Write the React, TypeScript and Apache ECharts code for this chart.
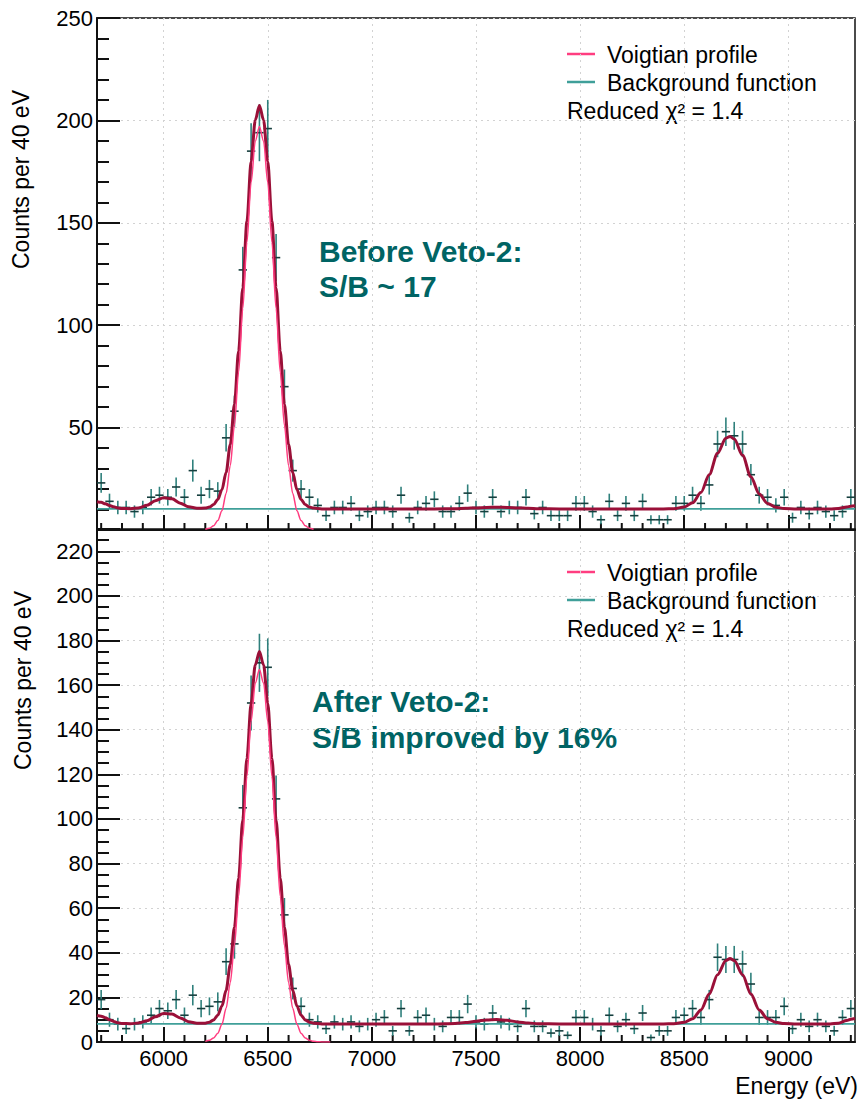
import React, { useEffect, useRef } from "react";
import * as echarts from "echarts";

// ---------------- data ----------------
const binCenters: number[] = [
  5700, 5740, 5780, 5820, 5860, 5900, 5940, 5980, 6020, 6060, 6100, 6140, 6180, 6220, 6260, 6300,
  6340, 6380, 6420, 6460, 6500, 6540, 6580, 6620, 6660, 6700, 6740, 6780, 6820, 6860, 6900, 6940,
  6980, 7020, 7060, 7100, 7140, 7180, 7220, 7260, 7300, 7340, 7380, 7420, 7460, 7500, 7540, 7580,
  7620, 7660, 7700, 7740, 7780, 7820, 7860, 7900, 7940, 7980, 8020, 8060, 8100, 8140, 8180, 8220,
  8260, 8300, 8340, 8380, 8420, 8460, 8500, 8540, 8580, 8620, 8660, 8700, 8740, 8780, 8820, 8860,
  8900, 8940, 8980, 9020, 9060, 9100, 9140, 9180, 9220, 9260, 9300,
];
const binHalfWidth = 20;

const topCounts: number[] = [
  23, 14, 11, 11, 9, 11, 16, 17, 16, 21,
  16, 29, 17, 20, 19, 45, 58, 127, 185, 194,
  196, 133, 70, 29, 20, 16, 12, 7, 11, 11,
  13, 7, 9, 11, 11, 9, 17, 6, 11, 13,
  15, 9, 9, 13, 18, 11, 9, 16, 9, 11,
  11, 16, 8, 11, 7, 7, 7, 13, 13, 9,
  5, 14, 7, 13, 7, 14, 5, 5, 5, 13,
  13, 17, 13, 22, 42, 48, 46, 42, 27, 17,
  16, 12, 16, 6, 11, 8, 11, 9, 7, 9,
  16,
];
const bottomCounts: number[] = [
  19, 10, 8, 6, 8, 9, 12, 15, 14, 19,
  12, 21, 15, 16, 18, 36, 44, 105, 152, 170,
  168, 109, 57, 24, 16, 10, 9, 6, 9, 8,
  9, 7, 8, 10, 11, 5, 15, 5, 11, 12,
  8, 7, 11, 11, 17, 9, 8, 13, 9, 8,
  7, 15, 7, 7, 4, 5, 3, 11, 11, 8,
  5, 12, 7, 10, 6, 13, 2, 5, 5, 11,
  12, 15, 11, 19, 38, 37, 37, 35, 26, 11,
  11, 11, 16, 6, 10, 7, 10, 7, 5, 11,
  15,
];

// total fit curve, sampled where read
const fitEnergies: number[] = [
  5680, 5700, 5720, 5740, 5760, 5780, 5800, 5840, 5880, 5920,
  5960, 6000, 6040, 6080, 6120, 6160, 6200, 6220, 6240, 6260,
  6280, 6300, 6320, 6340, 6360, 6380, 6400, 6420, 6440, 6460,
  6480, 6500, 6520, 6540, 6560, 6580, 6600, 6620, 6640, 6660,
  6680, 6700, 6720, 6760, 6800, 7000, 7200, 7300, 7400, 7450,
  7500, 7550, 7600, 7650, 7700, 7750, 7800, 7900, 8000, 8200,
  8300, 8400, 8450, 8500, 8540, 8580, 8620, 8660, 8700, 8720,
  8740, 8780, 8820, 8860, 8900, 8940, 8980, 9040, 9100, 9200,
  9240, 9280, 9300, 9320,
];
const topFit: number[] = [
  13.8, 13.5, 12.8, 12.0, 11.3, 10.8, 10.5, 10.4, 10.8, 12.1,
  14.3, 15.8, 15.2, 13.1, 11.3, 10.6, 10.7, 11.2, 12.4, 14.9,
  19.7, 28.1, 41.7, 61.4, 87.4, 118.3, 150.8, 179.9, 200.1, 207.3,
  200.1, 179.9, 150.8, 118.3, 87.4, 61.4, 41.7, 28.1, 19.7, 14.9,
  12.4, 11.2, 10.7, 10.3, 10.3, 10.3, 10.3, 10.3, 10.4, 10.6,
  10.8, 11.0, 11.1, 11.0, 10.8, 10.6, 10.4, 10.3, 10.3, 10.3,
  10.3, 10.3, 10.4, 11.2, 13.3, 18.3, 27.0, 37.5, 44.8, 45.7,
  44.4, 36.5, 26.0, 17.6, 13.0, 11.1, 10.5, 10.3, 10.3, 10.3,
  10.5, 11.2, 11.6, 11.8,
];
const bottomFit: number[] = [
  11.9, 11.6, 10.9, 10.0, 9.2, 8.6, 8.3, 8.2, 8.5, 9.5,
  11.3, 12.8, 12.5, 10.8, 9.1, 8.4, 8.4, 8.9, 9.9, 12.0,
  16.1, 23.2, 34.7, 51.4, 73.4, 99.7, 127.2, 151.8, 169.0, 175.1,
  169.0, 151.8, 127.2, 99.7, 73.4, 51.4, 34.7, 23.2, 16.1, 12.0,
  9.9, 8.9, 8.4, 8.1, 8.1, 8.1, 8.1, 8.1, 8.3, 8.7,
  9.3, 9.9, 10.1, 9.7, 9.0, 8.5, 8.2, 8.1, 8.1, 8.1,
  8.1, 8.1, 8.2, 8.8, 10.4, 14.4, 21.5, 30.2, 36.5, 37.4,
  36.5, 30.2, 21.5, 14.4, 10.4, 8.8, 8.3, 8.1, 8.1, 8.1,
  8.4, 9.6, 10.2, 10.5,
];

// Voigtian profile (visible part)
const voigtEnergiesTop: number[] = [
  6200, 6220, 6240, 6260, 6280, 6300, 6320, 6340, 6360, 6380, 6400, 6420, 6440, 6460,
  6480, 6500, 6520, 6540, 6560, 6580, 6600, 6620, 6640, 6660, 6680, 6700, 6720,
];
const topVoigt: number[] = [
  0.35, 0.88, 2.1, 4.6, 9.4, 17.8, 31.4, 51.1, 77.1, 108.1, 140.5, 169.6, 189.8, 197,
  189.8, 169.6, 140.5, 108.1, 77.1, 51.1, 31.4, 17.8, 9.4, 4.6, 2.1, 0.88, 0.35,
];
const voigtEnergiesBottom: number[] = [
  6200, 6220, 6240, 6260, 6280, 6300, 6320, 6340, 6360, 6380, 6400, 6420, 6440, 6460,
  6480, 6500, 6520, 6540, 6560, 6580, 6600, 6620, 6640, 6660, 6680, 6700, 6720, 6740,
  6760, 6780, 6800,
];
const bottomVoigt: number[] = [
  0.29, 0.75, 1.78, 3.91, 7.98, 15.1, 26.6, 43.3, 65.3, 91.6, 119.1, 143.7, 160.9, 167.0,
  160.9, 143.7, 119.1, 91.6, 65.3, 43.3, 26.6, 15.1, 7.98, 3.91, 1.78, 0.75, 0.29, 0.11,
  0.04, 0.01, 0,
];

const topBackground = 10.3;
const bottomBackground = 8.1;

const energyMin = 5680;
const energyMax = 9320;
const xMajorTicks: number[] = [6000, 6500, 7000, 7500, 8000, 8500, 9000];
const xMinorTicks: number[] = [
  5700, 5800, 5900, 6100, 6200, 6300, 6400, 6600, 6700, 6800, 6900, 7100, 7200, 7300, 7400,
  7600, 7700, 7800, 7900, 8100, 8200, 8300, 8400, 8600, 8700, 8800, 8900, 9100, 9200, 9300,
];
const topYMax = 250;
const topYStep = 50;
const bottomYMax = 230;
const bottomYStep = 20;

const legendItems = ["Voigtian profile", "Background function"];
const chiText = "Reduced \u03c7\u00b2 = 1.4";
const topNote = ["Before Veto-2:", "S/B ~ 17"];
const bottomNote = ["After Veto-2:", "S/B improved by 16%"];
const yTitle = "Counts per 40 eV";
const xTitle = "Energy (eV)";

// ---------------- style ----------------
const FONT = "'Liberation Sans', Arial, sans-serif";
const C_TOTAL = "#9a1038";
const C_VOIGT = "#ff3d80";
const C_BG = "#3f9f99";
const C_ERR_V = "#2f807c";
const C_ERR_H = "#163f3e";
const C_NOTE = "#006464";
const C_GRID = "#d2d2d2";
const C_AXIS = "#111111";

const GRID_LEFT = 97;
const GRID_W = 758;
const MINOR_TICK_LEN = 7;

function errorBars(counts: number[], xAxisIndex: number, yAxisIndex: number) {
  return {
    type: "custom",
    xAxisIndex,
    yAxisIndex,
    clip: true,
    z: 2,
    silent: true,
    encode: { x: 0, y: 1 },
    data: binCenters.map((e, i) => [e, counts[i], Math.sqrt(counts[i])]),
    renderItem: (_params: any, api: any) => {
      const e = api.value(0);
      const v = api.value(1);
      const err = api.value(2);
      const l = api.coord([e - binHalfWidth, v]);
      const r = api.coord([e + binHalfWidth, v]);
      const t = api.coord([e, v + err]);
      const b = api.coord([e, v - err]);
      return {
        type: "group",
        children: [
          { type: "line", shape: { x1: t[0], y1: t[1], x2: b[0], y2: b[1] }, style: { stroke: C_ERR_V, lineWidth: 1.6 } },
          { type: "line", shape: { x1: l[0], y1: l[1], x2: r[0], y2: r[1] }, style: { stroke: C_ERR_H, lineWidth: 1.6 } },
        ],
      };
    },
  };
}

// minor x ticks (every 100 eV), drawn upward from the bottom axis through the axis scale
function minorXTicks(xAxisIndex: number, yAxisIndex: number) {
  return {
    type: "custom",
    xAxisIndex,
    yAxisIndex,
    clip: false,
    z: 1,
    silent: true,
    encode: { x: 0, y: 1 },
    data: xMinorTicks.map((e) => [e, 0]),
    renderItem: (_params: any, api: any) => {
      const p = api.coord([api.value(0), api.value(1)]);
      return {
        type: "line",
        shape: { x1: p[0], y1: p[1], x2: p[0], y2: p[1] - MINOR_TICK_LEN },
        style: { stroke: C_AXIS, lineWidth: 2 },
      };
    },
  };
}

function lineSeries(xs: number[], ys: number[], xAxisIndex: number, yAxisIndex: number, color: string, width: number, z: number) {
  return {
    type: "line",
    xAxisIndex,
    yAxisIndex,
    data: xs.map((x, i) => [x, ys[i]]),
    showSymbol: false,
    symbol: "none",
    smooth: 0.3,
    smoothMonotone: "x",
    silent: true,
    z,
    lineStyle: { color, width },
  };
}

function xAxis(gridIndex: number, withLabels: boolean) {
  return {
    type: "value",
    gridIndex,
    position: "bottom",
    min: energyMin,
    max: energyMax,
    splitNumber: 7,
    axisLine: { show: true, onZero: false, lineStyle: { color: C_AXIS, width: 2 } },
    axisTick: { show: true, inside: true, length: 15, customValues: xMajorTicks, lineStyle: { color: C_AXIS, width: 2 } },
    axisLabel: withLabels
      ? {
          show: true,
          customValues: xMajorTicks,
          color: "#000",
          fontSize: 22,
          fontFamily: FONT,
          margin: 5,
          formatter: (v: number) => String(v),
        }
      : { show: false },
    splitLine: { show: true, lineStyle: { color: C_GRID, width: 1, type: [2, 4] } },
  };
}

function yAxis(gridIndex: number, max: number, step: number, minorSplit: number, isTop: boolean) {
  return {
    type: "value",
    gridIndex,
    min: 0,
    max,
    interval: step,
    axisLine: { show: true, onZero: false, lineStyle: { color: C_AXIS, width: 2 } },
    axisTick: { show: true, inside: true, length: 23, lineStyle: { color: C_AXIS, width: 2 } },
    minorTick: { show: true, splitNumber: minorSplit, length: 12, lineStyle: { color: C_AXIS, width: 2 } },
    axisLabel: {
      color: "#000",
      fontSize: 22,
      fontFamily: FONT,
      margin: 4,
      showMinLabel: !isTop,
      showMaxLabel: isTop,
      formatter: (v: number) => String(v),
    },
    splitLine: { show: true, lineStyle: { color: C_GRID, width: 1, type: [2, 4] } },
  };
}

function legendGraphics(dy: number) {
  return [
    { type: "line", shape: { x1: 567, y1: 54 + dy, x2: 595, y2: 54 + dy }, style: { stroke: C_VOIGT, lineWidth: 2.5 } },
    { type: "text", x: 607, y: 55 + dy, style: { text: legendItems[0], fill: "#000", font: `23px ${FONT}`, textAlign: "left", textVerticalAlign: "middle" } },
    { type: "line", shape: { x1: 567, y1: 82 + dy, x2: 595, y2: 82 + dy }, style: { stroke: C_BG, lineWidth: 2.5 } },
    { type: "text", x: 607, y: 83 + dy, style: { text: legendItems[1], fill: "#000", font: `23px ${FONT}`, textAlign: "left", textVerticalAlign: "middle" } },
    { type: "text", x: 567, y: 111 + dy, style: { text: chiText, fill: "#000", font: `23px ${FONT}`, textAlign: "left", textVerticalAlign: "middle" } },
  ];
}

function noteGraphics(lines: string[], x: number, y1: number, y2: number) {
  return [
    { type: "text", x, y: y1, style: { text: lines[0], fill: C_NOTE, font: `bold 30px ${FONT}`, textAlign: "left", textVerticalAlign: "middle" } },
    { type: "text", x, y: y2, style: { text: lines[1], fill: C_NOTE, font: `bold 30px ${FONT}`, textAlign: "left", textVerticalAlign: "middle" } },
  ];
}

const option: any = {
  animation: false,
  backgroundColor: "#ffffff",
  grid: [
    { left: GRID_LEFT, top: 18, width: GRID_W, height: 512, show: true, borderColor: C_AXIS, borderWidth: 1.5, backgroundColor: "transparent" },
    { left: GRID_LEFT, top: 529, width: GRID_W, height: 513, show: true, borderColor: C_AXIS, borderWidth: 1.5, backgroundColor: "transparent" },
  ],
  xAxis: [xAxis(0, false), xAxis(1, true)],
  yAxis: [yAxis(0, topYMax, topYStep, 5, true), yAxis(1, bottomYMax, bottomYStep, 4, false)],
  series: [
    minorXTicks(0, 0),
    errorBars(topCounts, 0, 0),
    lineSeries([energyMin, energyMax], [topBackground, topBackground], 0, 0, C_BG, 1.8, 3),
    lineSeries(fitEnergies, topFit, 0, 0, C_TOTAL, 3, 4),
    lineSeries(voigtEnergiesTop, topVoigt, 0, 0, C_VOIGT, 1.5, 5),
    minorXTicks(1, 1),
    errorBars(bottomCounts, 1, 1),
    lineSeries([energyMin, energyMax], [bottomBackground, bottomBackground], 1, 1, C_BG, 1.8, 3),
    lineSeries(fitEnergies, bottomFit, 1, 1, C_TOTAL, 3, 4),
    lineSeries(voigtEnergiesBottom, bottomVoigt, 1, 1, C_VOIGT, 1.5, 5),
  ],
  graphic: [
    ...legendGraphics(0),
    ...legendGraphics(518),
    ...noteGraphics(topNote, 319, 251, 286),
    ...noteGraphics(bottomNote, 312, 701, 737),
    { type: "text", x: 21, y: 90, rotation: Math.PI / 2, style: { text: yTitle, fill: "#000", font: `23px ${FONT}`, textAlign: "right", textVerticalAlign: "middle" } },
    { type: "text", x: 23, y: 591, rotation: Math.PI / 2, style: { text: yTitle, fill: "#000", font: `23px ${FONT}`, textAlign: "right", textVerticalAlign: "middle" } },
    { type: "text", x: 858, y: 1086, style: { text: xTitle, fill: "#000", font: `23px ${FONT}`, textAlign: "right", textVerticalAlign: "middle" } },
  ],
};

export default function App() {
  const ref = useRef<HTMLDivElement>(null);
  useEffect(() => {
    if (!ref.current) return;
    const chart = echarts.init(ref.current, null, { renderer: "svg" });
    chart.setOption(option);
    return () => chart.dispose();
  }, []);
  return (
    <div
      ref={ref}
      style={{ position: "fixed", left: 0, top: 0, width: 861, height: 1099, background: "#fff" }}
    />
  );
}
